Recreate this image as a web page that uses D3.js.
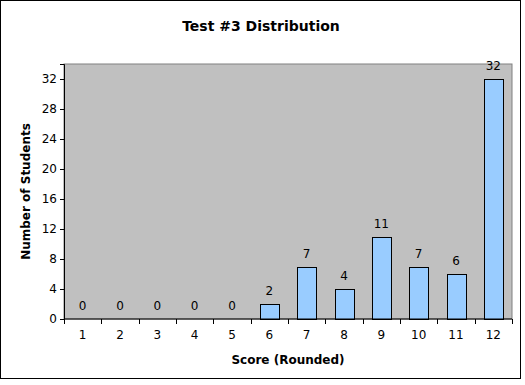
<!DOCTYPE html>
<html>
<head>
<meta charset="utf-8">
<script src="https://cdn.jsdelivr.net/npm/d3@7"></script>
<style>
  body { margin: 0; background: #fff; }
  text { font-family: "DejaVu Sans", Verdana, sans-serif; }
</style>
</head>
<body>
<div id="chart"></div>
<script>
// data
let scores = ["1","2","3","4","5","6","7","8","9","10","11","12"];
let counts = [0,0,0,0,0,2,7,4,11,7,6,32];
let yTicks = [0,4,8,12,16,20,24,28,32];

let w = 525, h = 385;
let margin = {top: 64, right: 13, bottom: 66, left: 64};

let svg = d3.select("#chart").append("svg")
    .attr("width", w)
    .attr("height", h);

// outer frame
svg.append("rect")
    .attr("x", 0.5).attr("y", 0.5)
    .attr("width", 520).attr("height", 378)
    .attr("fill", "#fff")
    .attr("stroke", "#000");

let xScale = d3.scaleBand()
    .domain(scores)
    .range([margin.left, w - margin.right])
    .paddingInner(0.5)
    .paddingOuter(0.25);

let yScale = d3.scaleLinear()
    .domain([0, 34])
    .range([h - margin.bottom, margin.top]);

// plot area
svg.append("rect")
    .attr("x", margin.left)
    .attr("y", margin.top)
    .attr("width", w - margin.left - margin.right)
    .attr("height", h - margin.top - margin.bottom)
    .attr("fill", "#c0c0c0")
    .attr("stroke", "#808080");

// bars
svg.selectAll(".bar").data(counts).enter()
  .append("rect")
    .attr("class", "bar")
    .attr("x", (d, i) => Math.round(xScale(scores[i])) + 0.5)
    .attr("y", d => Math.round(yScale(d)) + 0.5)
    .attr("width", Math.round(xScale.bandwidth()))
    .attr("height", d => Math.round(yScale(0)) - Math.round(yScale(d)))
    .attr("fill", "#99ccff")
    .attr("stroke", "#000")
    .attr("stroke-width", 1)
    .style("display", d => d > 0 ? null : "none");

// value labels
svg.selectAll(".lbl").data(counts).enter()
  .append("text")
    .attr("class", "lbl")
    .attr("x", (d, i) => xScale(scores[i]) + xScale.bandwidth() / 2)
    .attr("y", d => yScale(d) - 9)
    .attr("text-anchor", "middle")
    .attr("font-size", 12)
    .attr("fill", "#000")
    .text(d => d);

// y axis
let yAxis = d3.axisLeft(yScale).tickValues(yTicks).tickSize(4).tickPadding(3);
let yg = svg.append("g")
    .attr("transform", "translate(" + margin.left + ",0)")
    .call(yAxis);
yg.select(".domain").attr("stroke", "#000");
yg.selectAll("text").attr("font-size", 12).attr("font-family", "DejaVu Sans, Verdana, sans-serif");

// x axis, ticks between categories like Excel
let xg = svg.append("g")
    .attr("transform", "translate(0," + (h - margin.bottom) + ")");
xg.append("line")
    .attr("x1", margin.left).attr("x2", w - margin.right)
    .attr("stroke", "#000");
let step = xScale.step();
let bounds = scores.map((s, i) => xScale(s) - step * 0.25).concat([w - margin.right]);
xg.selectAll(".xtick").data(bounds).enter()
  .append("line")
    .attr("x1", d => Math.round(d) + 0.5)
    .attr("x2", d => Math.round(d) + 0.5)
    .attr("y1", 0).attr("y2", 5)
    .attr("stroke", "#000");
xg.selectAll(".xlbl").data(scores).enter()
  .append("text")
    .attr("x", d => xScale(d) + xScale.bandwidth() / 2)
    .attr("y", 20)
    .attr("text-anchor", "middle")
    .attr("font-size", 12)
    .text(d => d);

// titles
svg.append("text")
    .attr("x", 261).attr("y", 31)
    .attr("text-anchor", "middle")
    .attr("font-size", 14)
    .attr("font-weight", "bold")
    .text("Test #3 Distribution");

svg.append("text")
    .attr("x", (margin.left + w - margin.right) / 2).attr("y", 364)
    .attr("text-anchor", "middle")
    .attr("font-size", 12)
    .attr("font-weight", "bold")
    .text("Score (Rounded)");

svg.append("text")
    .attr("transform", "translate(30," + ((margin.top + h - margin.bottom) / 2) + ") rotate(-90)")
    .attr("text-anchor", "middle")
    .attr("font-size", 12)
    .attr("font-weight", "bold")
    .text("Number of Students");
</script>
</body>
</html>
